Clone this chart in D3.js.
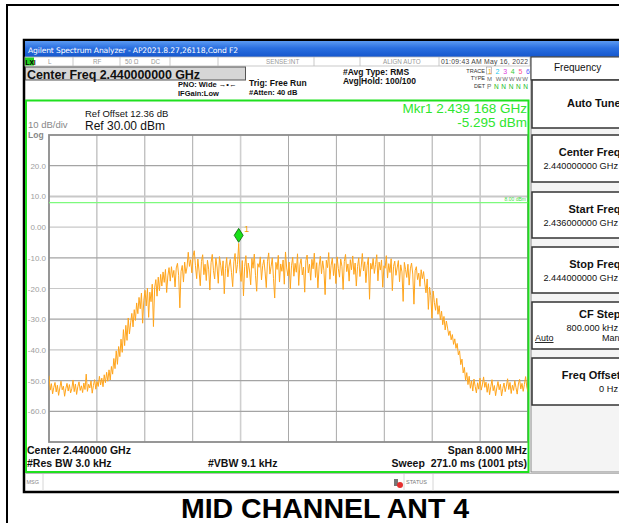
<!DOCTYPE html>
<html>
<head>
<meta charset="utf-8">
<script src="https://cdn.jsdelivr.net/npm/d3@7"></script>
<style>
  html, body { margin: 0; padding: 0; background: #fff; }
  svg { display: block; font-family: 'Liberation Sans', Arial, sans-serif; }
</style>
</head>
<body>
<div id="chart"></div>
<script>
// sweep settings (MHz / dBm)
const freqStart = 2436.0;
const freqStop = 2444.0;
const refLevel = 30;
const bottomLevel = -70;
const dbTicks = [20, 10, 0, -10, -20, -30, -40, -50, -60];
const dbTickLabels = ['20.0', '10.0', '0.00', '-10.0', '-20.0', '-30.0', '-40.0', '-50.0', '-60.0'];
const displayLine = 8.0;
const markerFreq = 2439.168;
const markerLevel = -5.295;

// trace (dBm), equally spaced from start to stop
const traceLevels = [
  // noise floor, left
  -48.4, -53.1, -51.0, -54.3, -52.2, -50.6, -53.7, -51.5, -54.8, -52.4, -50.2, -53.0, -51.8,
  -55.1, -52.6, -50.9, -53.4, -51.3, -54.0, -52.7, -49.8, -53.6, -51.1, -54.5, -52.0, -50.4,
  -53.2, -51.7, -53.9, -50.8, -52.9, -47.9, -53.5, -51.2, -52.4, -50.1, -54.1, -51.6, -49.7,
  // rising edge
  -52.8, -50.3, -51.9, -48.6, -51.4, -49.2, -52.0, -48.1, -50.7, -47.3, -50.2, -46.5, -49.8, -45.4,
  -47.9, -42.8, -46.1, -40.3, -44.7, -38.9, -42.2, -36.5,
  -40.8, -33.4, -38.6, -32.0, -36.9, -29.6, -34.8, -31.2, -28.1, -32.5, -26.9,
  -30.4, -24.7, -28.2, -22.9, -26.6, -21.5, -31.3, -23.8, -20.6, -25.7, -19.9, -29.4, -21.2,
  -24.3, -18.6, -32.4, -19.8, -17.1, -22.5, -16.3, -20.7, -15.4, -19.2, -14.6, -18.0, -13.8, -21.3, -15.9, -13.2,
  -17.6, -12.9, -16.4, -14.1, -19.5, -13.3, -11.8, -15.7, -26.3, -14.4,
  -12.5, -17.9, -11.4, -15.1, -13.0, -8.2, -12.8, -10.6, -14.9, -9.4,
  // in-band
  -7.7, -12.6, -16.8, -10.4, -14.3, -19.1, -11.2, -9.0, -15.5, -12.1,
  -17.4, -10.8, -13.7, -20.5, -11.6, -8.9, -14.2, -16.9, -10.1, -13.0,
  -18.3, -9.6, -12.4, -15.8, -11.0, -21.7, -13.5, -9.9, -16.2, -12.7,
  -10.5, -14.8, -19.4, -11.3, -8.6, -15.0, -12.2, -5.3, -13.9, -17.7,
  -10.9, -22.4, -12.8, -9.3, -16.5, -11.7, -14.0, -18.8, -10.2, -13.4,
  -8.8, -15.7, -20.9, -11.9, -13.1, -9.7, -17.2, -12.5, -10.6, -14.6,
  -19.7, -11.1, -8.4, -15.3, -12.9, -10.0, -16.7, -23.1, -11.5, -13.8,
  -9.2, -17.9, -12.0, -14.4, -10.7, -18.6, -8.1, -13.3, -15.9, -11.4,
  -20.1, -12.6, -9.8, -16.0, -11.8, -14.7, -8.7, -19.0, -12.3, -10.3,
  -15.6, -13.0, -21.2, -10.9, -9.1, -14.9, -12.1, -17.3, -10.5, -13.6,
  -8.5, -16.4, -11.6, -19.8, -12.7, -9.5, -15.2, -11.0, -14.1, -22.0,
  -10.8, -13.2, -8.3, -17.0, -12.4, -10.1, -15.8, -11.9, -18.4, -9.7,
  -13.5, -16.3, -10.4, -12.8, -20.3, -11.2, -8.9, -14.5, -12.0, -17.6,
  -10.6, -13.9, -9.4, -15.4, -11.7, -19.2, -12.9, -10.0, -16.1, -13.1,
  -8.6, -14.3, -11.3, -18.1, -12.5, -9.9, -23.5, -11.8, -13.7, -10.2,
  -15.1, -12.2, -9.0, -17.5, -11.4, -14.0, -10.7, -19.6, -12.6, -13.4,
  -9.3, -16.6, -11.9, -14.8, -10.3, -20.7, -12.8, -11.1, -15.7, -13.3,
  -10.9, -17.8, -12.3, -14.6, -24.2, -11.5, -13.8, -16.4, -12.1, -18.9,
  -13.6, -11.7, -15.3, -25.1, -14.2, -12.9, -17.1, -15.0, -19.3, -13.9,
  -16.8, -14.5, -18.2,
  // falling edge
  -21.4, -16.9, -26.8, -19.6, -22.3, -29.7, -20.8, -24.5, -27.1, -23.2, -28.4, -25.6,
  -30.2, -27.4, -31.8, -29.1, -33.5, -30.6, -32.9, -35.3, -33.8, -36.7, -35.0, -38.2,
  -36.4, -39.5, -37.9, -41.6, -40.3, -44.8, -43.0, -47.5, -45.7,
  // noise floor, right
  -49.9, -47.4, -51.3, -48.6, -52.5, -50.1, -53.4, -49.5, -51.9, -54.0,
  -50.7, -52.8, -49.2, -53.1, -51.4, -48.8, -52.2, -50.5, -53.8, -51.0,
  -54.6, -52.0, -49.7, -53.3, -51.6, -54.9, -52.4, -50.3, -53.0, -51.2,
  -55.0, -52.6, -50.8, -53.6, -51.8, -49.4, -52.9, -50.6, -54.2, -51.5,
  -53.2, -50.0, -52.3, -54.4, -51.1, -49.6, -52.7, -50.9, -53.5, -51.3,
  -48.7, -52.1, -53.7
];

// softkey panel
const softKeys = [
  {name: 'Auto Tune', value: ''},
  {name: 'Center Freq', value: '2.440000000 GHz'},
  {name: 'Start Freq', value: '2.436000000 GHz'},
  {name: 'Stop Freq', value: '2.444000000 GHz'},
  {name: 'CF Step', value: '800.000 kHz'},
  {name: 'Freq Offset', value: '0 Hz'},
];

const width = 619;
const height = 523;

const svg = d3.select('#chart')
  .append('svg')
  .attr('width', width)
  .attr('height', height);

const defs = svg.append('defs');
const grad = defs.append('linearGradient')
  .attr('id', 'titlebar')
  .attr('x1', 0).attr('y1', 0).attr('x2', 0).attr('y2', 1);
grad.append('stop').attr('offset', '0%').attr('stop-color', '#5b9af2');
grad.append('stop').attr('offset', '45%').attr('stop-color', '#2a6fe0');
grad.append('stop').attr('offset', '100%').attr('stop-color', '#1556cc');

defs.append('clipPath').attr('id', 'plotclip')
  .append('rect').attr('x', 49).attr('y', 135).attr('width', 480).attr('height', 308);

// outer frames
svg.append('rect')
  .attr('x', 7).attr('y', 5).attr('width', 640).attr('height', 560)
  .attr('fill', 'none').attr('stroke', '#000').attr('stroke-width', 2);

svg.append('rect')
  .attr('x', 24).attr('y', 40).attr('width', 620).attr('height', 452)
  .attr('fill', '#fff').attr('stroke', '#000').attr('stroke-width', 2.5);

// title bar
svg.append('rect')
  .attr('x', 25).attr('y', 41).attr('width', 600).attr('height', 16)
  .attr('fill', 'url(#titlebar)');
svg.append('text')
  .attr('x', 28).attr('y', 52.5)
  .attr('fill', '#fff')
  .style('font-family', "'DejaVu Sans', sans-serif")
  .style('font-size', '7.6px')
  .attr('textLength', 210)
  .text('Agilent Spectrum Analyzer - AP2021.8.27,26118,Cond F2');

// status row
const status = svg.append('g');
status.append('rect')
  .attr('x', 25).attr('y', 57).attr('width', 505).attr('height', 9)
  .attr('fill', '#fff').attr('stroke', '#bbb').attr('stroke-width', 0.8);
[73, 120, 170, 218, 314, 360, 439].forEach(function(x) {
  status.append('line')
    .attr('x1', x).attr('x2', x).attr('y1', 57).attr('y2', 66)
    .attr('stroke', '#bbb').attr('stroke-width', 0.8);
});
status.append('rect')
  .attr('x', 25).attr('y', 57.5).attr('width', 9).attr('height', 8)
  .attr('fill', '#22d022');
status.append('text').attr('x', 25.5).attr('y', 64.5)
  .style('font-size', '6.5px').style('font-weight', 'bold').text('LXI');
[
  {x: 48, t: 'L'}, {x: 93, t: 'RF'}, {x: 125, t: '50 Ω'}, {x: 151, t: 'DC'},
  {x: 266, t: 'SENSE:INT'}, {x: 383, t: 'ALIGN AUTO'},
].forEach(function(d) {
  status.append('text').attr('x', d.x).attr('y', 64)
    .attr('fill', '#999').style('font-size', '6.3px').text(d.t);
});
status.append('text').attr('x', 441).attr('y', 64.2)
  .attr('fill', '#444').style('font-size', '6.8px')
  .attr('textLength', 87)
  .text('01:09:43 AM May 16, 2022');

// center freq box
svg.append('rect')
  .attr('x', 25.5).attr('y', 67).attr('width', 220).attr('height', 13)
  .attr('fill', '#d6d6d6').attr('stroke', '#555').attr('stroke-width', 1);
svg.append('text')
  .attr('x', 27).attr('y', 78.5)
  .style('font-size', '12.5px').style('font-weight', 'bold')
  .attr('fill', '#111')
  .attr('textLength', 173)
  .text('Center Freq 2.440000000 GHz');

// settings texts
const small = [
  {x: 178, y: 87, t: 'PNO: Wide  \u2192\u2022\u2190', s: 7.5},
  {x: 178, y: 96, t: 'IFGain:Low', s: 7.5},
  {x: 249, y: 86, t: 'Trig: Free Run', s: 8.5},
  {x: 249, y: 95, t: '#Atten: 40 dB', s: 7.5},
  {x: 343, y: 75, t: '#Avg Type: RMS', s: 8.5},
  {x: 343, y: 84, t: 'Avg|Hold: 100/100', s: 8.5},
];
small.forEach(function(d) {
  svg.append('text').attr('x', d.x).attr('y', d.y)
    .style('font-size', d.s + 'px').style('font-weight', 'bold')
    .attr('fill', '#111').text(d.t);
});

// trace / type / det block
const trk = svg.append('g').style('font-size', '5.5px');
trk.append('text').attr('x', 485).attr('y', 73).attr('text-anchor', 'end').attr('fill', '#333').text('TRACE');
trk.append('text').attr('x', 485).attr('y', 80).attr('text-anchor', 'end').attr('fill', '#333').text('TYPE');
trk.append('text').attr('x', 485).attr('y', 88).attr('text-anchor', 'end').attr('fill', '#333').text('DET');
trk.append('rect').attr('x', 486.5).attr('y', 67).attr('width', 5).attr('height', 7)
  .attr('fill', 'none').attr('stroke', '#999').attr('stroke-width', 0.6);
const traceColors = ['#f5a000', '#21c8f0', '#e040e0', '#33cc33', '#ff5090', '#6060ff'];
traceColors.forEach(function(c, i) {
  trk.append('text').attr('x', 488 + i * 7.6).attr('y', 73.5)
    .attr('fill', c).style('font-size', '7px').text(i + 1);
});
trk.append('text').attr('x', 487).attr('y', 80.5).attr('fill', '#666').style('font-size', '6px')
  .attr('textLength', 41).text('M WWWWW');
trk.append('text').attr('x', 487).attr('y', 88.5).attr('fill', '#666').style('font-size', '6.5px').text('P');
trk.append('text').attr('x', 494).attr('y', 88.5).attr('fill', '#22bb22').style('font-size', '6.5px')
  .attr('textLength', 34).text('N N N N N');

// right softkey panel
const panel = svg.append('g');
panel.append('rect')
  .attr('x', 531).attr('y', 57).attr('width', 100).attr('height', 415)
  .attr('fill', '#f4f4f4').attr('stroke', '#888').attr('stroke-width', 1);
panel.append('rect')
  .attr('x', 531).attr('y', 57).attr('width', 100).attr('height', 23)
  .attr('fill', '#fff').attr('stroke', '#333').attr('stroke-width', 1);
panel.append('text').attr('x', 554).attr('y', 71)
  .style('font-size', '10px').attr('fill', '#111').text('Frequency');

const keyTops = [80, 135, 192, 247, 302, 358];
const keyHeights = [48, 47, 46, 46, 47, 47];
softKeys.forEach(function(k, i) {
  const top = keyTops[i];
  panel.append('rect')
    .attr('x', 532).attr('y', top).attr('width', 100).attr('height', keyHeights[i])
    .attr('fill', '#fff').attr('stroke', '#333').attr('stroke-width', 1.5);
  const nameY = k.value ? top + (k.name === 'CF Step' ? 16 : 21) : top + 27;
  panel.append('text').attr('x', 620.5).attr('y', nameY)
    .attr('text-anchor', 'end')
    .style('font-size', '11px').style('font-weight', 'bold')
    .attr('fill', '#111').text(k.name);
  if (k.value) {
    panel.append('text').attr('x', 618).attr('y', nameY + 12.5)
      .attr('text-anchor', 'end')
      .style('font-size', '9.2px').attr('fill', '#111').text(k.value);
  }
});
panel.append('text').attr('x', 535).attr('y', 341)
  .style('font-size', '9px').attr('fill', '#111')
  .style('text-decoration', 'underline').text('Auto');
panel.append('text').attr('x', 602).attr('y', 341)
  .style('font-size', '9px').attr('fill', '#111').text('Man');

// plot area
const x = d3.scaleLinear().domain([freqStart, freqStop]).range([49, 528]);
const y = d3.scaleLinear().domain([bottomLevel, refLevel]).range([442, 135]);

const grid = svg.append('g');
d3.range(1, 10).forEach(function(i) {
  const f = freqStart + i * (freqStop - freqStart) / 10;
  grid.append('line')
    .attr('x1', x(f)).attr('x2', x(f)).attr('y1', y(refLevel)).attr('y2', y(bottomLevel))
    .attr('stroke', i === 4 ? '#cfcfcf' : '#a9a9a9').attr('stroke-width', i === 4 ? 1.6 : 1);
});
dbTicks.forEach(function(v) {
  grid.append('line')
    .attr('x1', x(freqStart)).attr('x2', x(freqStop)).attr('y1', y(v)).attr('y2', y(v))
    .attr('stroke', (v === 10 || v === 0 || v === -20 || v === -40) ? '#c8c8c8' : '#a4a4a4')
    .attr('stroke-width', (v === 10) ? 2 : 1.2);
});
// plot border
grid.append('rect')
  .attr('x', x(freqStart)).attr('y', y(refLevel))
  .attr('width', x(freqStop) - x(freqStart)).attr('height', y(bottomLevel) - y(refLevel))
  .attr('fill', 'none').attr('stroke', '#8c8c8c').attr('stroke-width', 1.8);

// y labels
svg.append('g').selectAll('text')
  .data(dbTicks)
  .enter()
  .append('text')
  .attr('x', 46)
  .attr('y', function(d) { return y(d) + 3; })
  .attr('text-anchor', 'end')
  .attr('fill', '#a0a0a0')
  .style('font-size', '8px')
  .text(function(d, i) { return dbTickLabels[i]; });

// display line
svg.append('line')
  .attr('x1', x(freqStart)).attr('x2', x(freqStop))
  .attr('y1', y(displayLine)).attr('y2', y(displayLine))
  .attr('stroke', '#7dfa7d').attr('stroke-width', 1.2);
svg.append('text')
  .attr('x', 526).attr('y', y(displayLine) - 1.5)
  .attr('text-anchor', 'end').attr('fill', '#44dd44')
  .style('font-size', '5px').text('8.00 dBm');

// trace
const step = (freqStop - freqStart) / (traceLevels.length - 1);
const line = d3.line()
  .x(function(d, i) { return x(freqStart + i * step); })
  .y(function(d) { return y(d); });

svg.append('path')
  .datum(traceLevels)
  .attr('clip-path', 'url(#plotclip)')
  .attr('d', line)
  .attr('fill', 'none')
  .attr('stroke', '#ffa51c')
  .attr('stroke-width', 1)
  .attr('stroke-linejoin', 'miter');

// marker
const mx = x(markerFreq);
const my = y(markerLevel) - 8;
svg.append('path')
  .attr('d', 'M' + mx + ',' + (my - 7) + 'L' + (mx + 4.5) + ',' + my + 'L' + mx + ',' + (my + 7) + 'L' + (mx - 4.5) + ',' + my + 'Z')
  .attr('fill', '#19e019').attr('stroke', '#0b5e0b').attr('stroke-width', 0.8);
svg.append('text')
  .attr('x', mx + 5.5).attr('y', my - 3)
  .attr('fill', '#f5a000').style('font-size', '9px').text('1');

// header texts in plot frame
svg.append('text').attr('x', 85).attr('y', 117)
  .style('font-size', '9.5px').attr('fill', '#111').text('Ref Offset 12.36 dB');
svg.append('text').attr('x', 85).attr('y', 129.5)
  .style('font-size', '12px').attr('fill', '#111').text('Ref 30.00 dBm');
svg.append('text').attr('x', 28).attr('y', 128)
  .style('font-size', '9.5px').attr('fill', '#888').text('10 dB/div');
svg.append('text').attr('x', 28).attr('y', 137.5)
  .style('font-size', '8.5px').style('font-weight', 'bold').attr('fill', '#888').text('Log');

svg.append('text').attr('x', 527).attr('y', 113)
  .attr('text-anchor', 'end').attr('fill', '#2ee62e')
  .style('font-size', '13.5px').text('Mkr1 2.439 168 GHz');
svg.append('text').attr('x', 527).attr('y', 127)
  .attr('text-anchor', 'end').attr('fill', '#2ee62e')
  .style('font-size', '13.5px').text(markerLevel.toFixed(3) + ' dBm');

// bottom annotations
const bottom = svg.append('g').style('font-size', '10.5px').style('font-weight', 'bold').attr('fill', '#111');
bottom.append('text').attr('x', 27).attr('y', 454).text('Center 2.440000 GHz');
bottom.append('text').attr('x', 27).attr('y', 467).text('#Res BW 3.0 kHz');
bottom.append('text').attr('x', 208).attr('y', 467).text('#VBW 9.1 kHz');
bottom.append('text').attr('x', 527).attr('y', 454).attr('text-anchor', 'end').text('Span 8.000 MHz');
bottom.append('text').attr('x', 527).attr('y', 467).attr('text-anchor', 'end').attr('xml:space', 'preserve').text('Sweep  271.0 ms (1001 pts)');

// green frame around the measurement area
svg.append('path')
  .attr('d', 'M26,472 L26,100.5 L528.5,100.5 L528.5,472 Z')
  .attr('fill', 'none').attr('stroke', '#1fe01f').attr('stroke-width', 2);

// message bar
svg.append('line').attr('x1', 25).attr('x2', 620).attr('y1', 473.5).attr('y2', 473.5)
  .attr('stroke', '#bbb').attr('stroke-width', 1);
svg.append('line').attr('x1', 43).attr('x2', 43).attr('y1', 474).attr('y2', 491)
  .attr('stroke', '#ccc').attr('stroke-width', 0.8);
svg.append('text').attr('x', 26.5).attr('y', 484)
  .attr('fill', '#888').style('font-size', '5.5px').text('MSG');
svg.append('line').attr('x1', 404).attr('x2', 404).attr('y1', 474).attr('y2', 491)
  .attr('stroke', '#ccc').attr('stroke-width', 0.8);
svg.append('line').attr('x1', 433).attr('x2', 433).attr('y1', 474).attr('y2', 491)
  .attr('stroke', '#ccc').attr('stroke-width', 0.8);
svg.append('rect').attr('x', 394).attr('y', 479).attr('width', 4).attr('height', 7).attr('fill', '#777');
svg.append('circle').attr('cx', 400).attr('cy', 485).attr('r', 3).attr('fill', '#e53030');
svg.append('text').attr('x', 406).attr('y', 484)
  .attr('fill', '#777').style('font-size', '5.5px').text('STATUS');

// caption
svg.append('text')
  .attr('x', 325).attr('y', 518)
  .attr('text-anchor', 'middle')
  .style('font-size', '28.5px').style('font-weight', 'bold')
  .attr('fill', '#000')
  .text('MID CHANNEL ANT 4');
</script>
</body>
</html>
